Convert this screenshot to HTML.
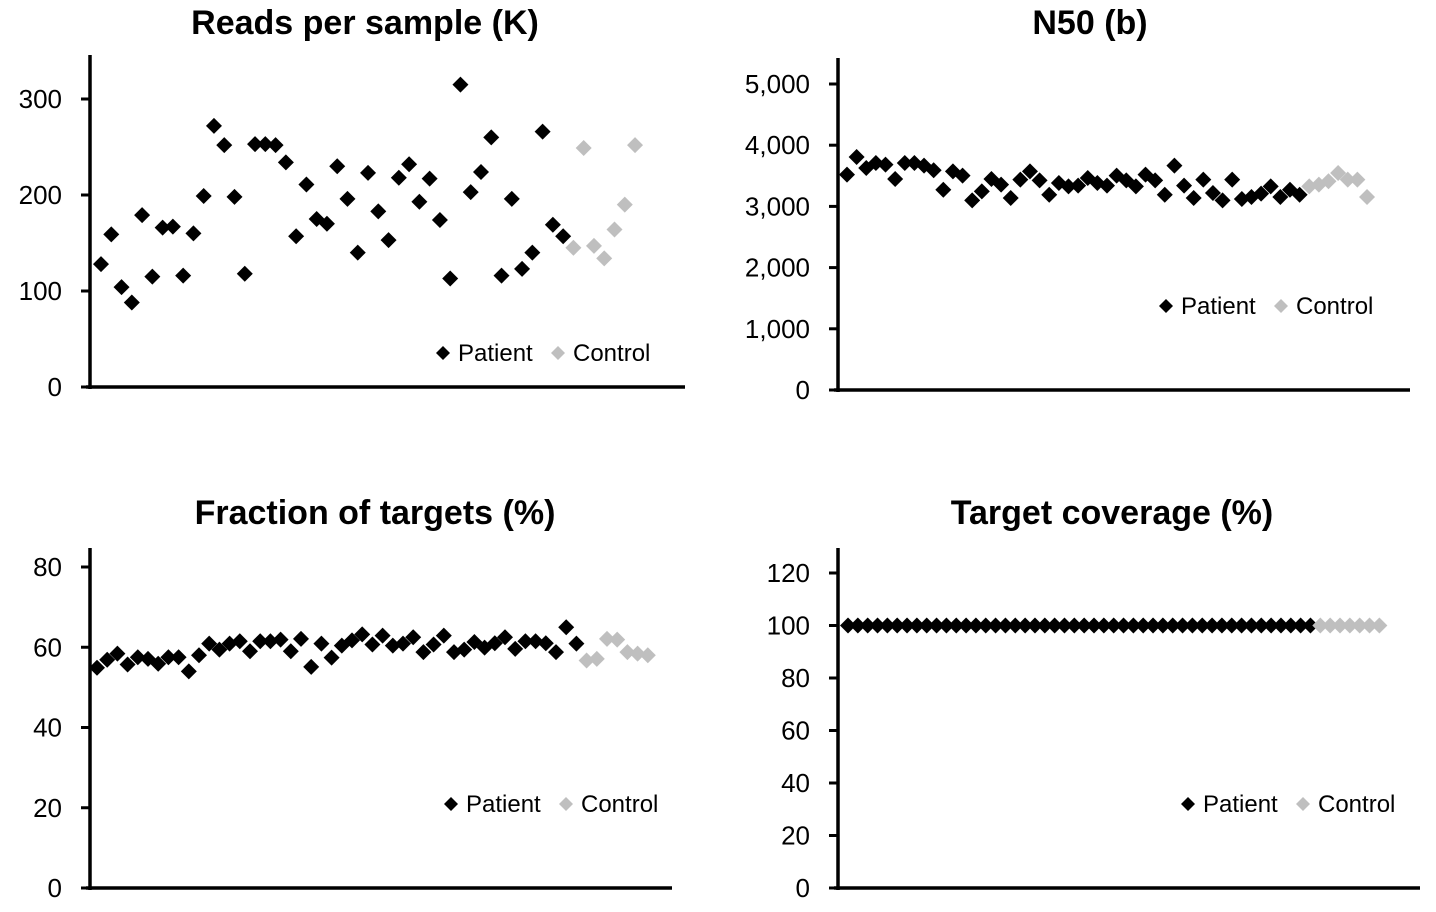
<!DOCTYPE html>
<html><head><meta charset="utf-8"><style>
html,body{margin:0;padding:0;background:#fff;}
svg{display:block;font-family:"Liberation Sans",Arial,sans-serif;}
</style></head><body>
<svg id="c" width="1436" height="912" viewBox="0 0 1436 912"></svg>
<script>
const readsPatient=[128,159,104,88,179,115,166,167,116,160,199,272,252,198,118,253,253,252,234,157,211,175,170,230,196,140,223,183,153,218,232,193,217,174,113,315,203,224,260,116,196,123,140,266,169,157];
const readsControl=[145,249,147,134,164,190,252];
const n50Patient=[3519,3808,3628,3710,3682,3448,3710,3710,3666,3590,3273,3573,3502,3099,3246,3448,3355,3137,3437,3573,3426,3191,3383,3328,3339,3464,3383,3339,3502,3426,3328,3519,3426,3191,3666,3339,3137,3437,3219,3099,3437,3121,3153,3208,3328,3153,3273,3191];
const n50Control=[3328,3355,3410,3546,3437,3437,3153];
const fracPatient=[54.9,56.9,58.4,55.7,57.5,57.1,55.9,57.5,57.5,54.0,58.0,60.9,59.4,60.9,61.5,59.0,61.5,61.5,61.9,59.0,62.1,55.1,60.9,57.4,60.4,61.7,63.2,60.7,62.9,60.4,60.9,62.5,58.8,60.7,62.9,58.8,59.4,61.3,59.9,61.0,62.5,59.6,61.5,61.5,61.0,58.8,65.0,60.9];
const fracControl=[56.7,57.1,62.1,61.9,58.8,58.4,58.0];
const covPatient=[100,100,100,100,100,100,100,100,100,100,100,100,100,100,100,100,100,100,100,100,100,100,100,100,100,100,100,100,100,100,100,100,100,100,100,100,100,100,100,100,100,100,100,100,100,100,100,100];
const covControl=[100,100,100,100,100,100,100];
const readsTicks=[0,100,200,300];
const n50Ticks=[0,1000,2000,3000,4000,5000];
const fracTicks=[0,20,40,60,80];
const covTicks=[0,20,40,60,80,100,120];

const NS='http://www.w3.org/2000/svg';
const svg=document.getElementById('c');
function mk(tag,attrs,parent){const e=document.createElementNS(NS,tag);for(const k in attrs)e.setAttribute(k,attrs[k]);(parent||svg).appendChild(e);return e;}

function chart(cfg){
  const g=mk('g',{});
  
  
  const yScale=v=>cfg.y0-(v-cfg.vmin)*(cfg.y0-cfg.yTop)/(cfg.vmax-cfg.vmin);
  const t=mk('text',{x:cfg.titleX,y:cfg.titleY,'text-anchor':'middle','font-size':34,'font-weight':'bold',fill:'#000'},g);
  t.textContent=cfg.title;
  
  
  const ya=mk('line',{x1:cfg.ax,y1:cfg.axTop,x2:cfg.ax,y2:cfg.y0+2,stroke:'#000','stroke-width':3.5},g);
  
  
  const xa=mk('line',{x1:cfg.ax-4,y1:cfg.y0,x2:cfg.axEnd,y2:cfg.y0,stroke:'#000','stroke-width':3.5},g);
  
  
  cfg.ticks.forEach(v=>{
    const y=yScale(v);
    mk('line',{x1:cfg.ax-9,y1:y,x2:cfg.ax,y2:y,stroke:'#000','stroke-width':3},g);
    const l=mk('text',{x:cfg.ax-28,y:y+9,'text-anchor':'end','font-size':26,fill:'#000'},g);
    l.textContent=v.toLocaleString('en-US');
    
    
  });
  const dia=(x,y,col)=>mk('path',{d:`M${x} ${y-8}L${x+8} ${y}L${x} ${y+8}L${x-8} ${y}Z`,fill:col},g);
  cfg.patient.forEach((v,i)=>{
    const p=dia(cfg.x0+i*cfg.dx,yScale(v),'#000');
    
    
  });
  const cx0=cfg.x0+cfg.patient.length*cfg.dx;
  cfg.control.forEach((v,i)=>{
    const p=dia(cx0+i*cfg.dx,yScale(v),'#bfbfbf');
    
    
  });
  const lg=mk('g',{},g);
  
  
  const [lx,ly]=cfg.legend;
  const d1=mk('path',{d:`M${lx} ${ly-7}L${lx+7} ${ly}L${lx} ${ly+7}L${lx-7} ${ly}Z`,fill:'#000'},lg);
  
  
  const t1=mk('text',{x:lx+15,y:ly+8,'font-size':24,fill:'#000'},lg);t1.textContent='Patient';
  
  
  const d2=mk('path',{d:`M${lx+115} ${ly-7}L${lx+122} ${ly}L${lx+115} ${ly+7}L${lx+108} ${ly}Z`,fill:'#bfbfbf'},lg);
  
  
  const t2=mk('text',{x:lx+130,y:ly+8,'font-size':24,fill:'#000'},lg);t2.textContent='Control';
  
  
}

chart({name:'reads-chart',title:'Reads per sample (K)',titleX:365,titleY:34,ax:90,axTop:55,axEnd:685,y0:387,yTop:99,vmin:0,vmax:300,ticks:readsTicks,patient:readsPatient,control:readsControl,x0:101,dx:10.27,legend:[443,353]});
chart({name:'n50-chart',title:'N50 (b)',titleX:1090,titleY:34,ax:838,axTop:58,axEnd:1410,y0:390,yTop:84,vmin:0,vmax:5000,ticks:n50Ticks,patient:n50Patient,control:n50Control,x0:847,dx:9.63,legend:[1166,306]});
chart({name:'fraction-chart',title:'Fraction of targets (%)',titleX:375,titleY:524,ax:90,axTop:548,axEnd:672,y0:888,yTop:567,vmin:0,vmax:80,ticks:fracTicks,patient:fracPatient,control:fracControl,x0:97,dx:10.2,legend:[451,804]});
chart({name:'coverage-chart',title:'Target coverage (%)',titleX:1112,titleY:524,ax:838,axTop:548,axEnd:1420,y0:888,yTop:573,vmin:0,vmax:120,ticks:covTicks,patient:covPatient,control:covControl,x0:848,dx:9.84,legend:[1188,804]});
</script>
</body></html>
